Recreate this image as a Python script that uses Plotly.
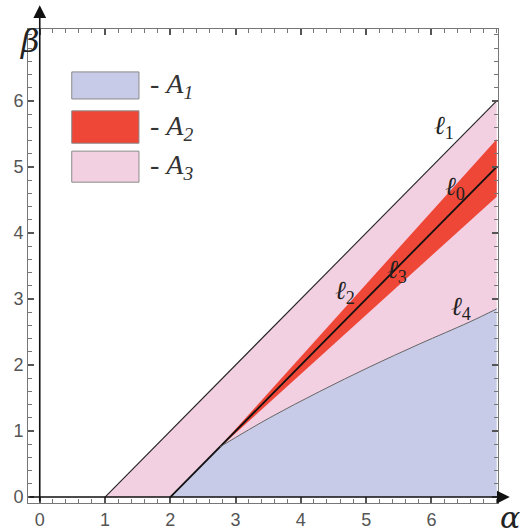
import plotly.graph_objects as go

# ---- data ----
# l1 : upper straight boundary
l1_alpha = [1.0, 7.0]
l1_beta = [0.0, 6.0]
# l0 : central straight line
l0_alpha = [2.0, 7.0]
l0_beta = [0.0, 5.0]
# point where l4 leaves l0
join_alpha = 2.76
join_beta = 0.76
# l4 : curved lower boundary
l4_alpha = [2.76, 3.52, 4.29, 5.05, 5.82, 6.58, 7.0]
l4_beta = [0.76, 1.20, 1.60, 1.97, 2.32, 2.65, 2.85]
# red wedge A2 (between l2 and l3)
a2_alpha = [2.7, 7.0, 7.0]
a2_beta = [0.7, 5.42, 4.55]
# labelled ticks
tick_vals = [0, 1, 2, 3, 4, 5, 6]

ALPHA_MAX = 7.0
BLUE = '#c7cbe7'
PINK = '#f2d0e1'
RED = '#ee4637'

fig = go.Figure()

# A1 : below l0 then below l4
a1_x = [l0_alpha[0], join_alpha] + l4_alpha + [ALPHA_MAX]
a1_y = [l0_beta[0], join_beta] + l4_beta + [0.0]
fig.add_trace(go.Scatter(x=a1_x, y=a1_y, fill='toself', fillcolor=BLUE,
                         mode='none', hoverinfo='skip', showlegend=False))

# A3 : between l1 and l0/l4
a3_x = l1_alpha + l4_alpha[::-1] + [join_alpha, l0_alpha[0]]
a3_y = l1_beta + l4_beta[::-1] + [join_beta, l0_beta[0]]
fig.add_trace(go.Scatter(x=a3_x, y=a3_y, fill='toself', fillcolor=PINK,
                         mode='none', hoverinfo='skip', showlegend=False))

# A2 : red wedge
fig.add_trace(go.Scatter(x=a2_alpha, y=a2_beta, fill='toself', fillcolor=RED,
                         mode='none', hoverinfo='skip', showlegend=False))

# lines
fig.add_trace(go.Scatter(x=l1_alpha, y=l1_beta, mode='lines',
                         line=dict(color='#222', width=1.1), showlegend=False))
fig.add_trace(go.Scatter(x=l0_alpha, y=l0_beta, mode='lines',
                         line=dict(color='#111', width=1.8), showlegend=False))
fig.add_trace(go.Scatter(x=l4_alpha, y=l4_beta, mode='lines', line_shape='spline',
                         line=dict(color='#555', width=0.9), showlegend=False))

# ---- legend drawn by hand ----
legend_rows = [(6.44, 6.03, BLUE, '1'), (5.85, 5.36, RED, '2'), (5.24, 4.77, PINK, '3')]
for top, bot, col, sub in legend_rows:
    fig.add_shape(type='rect', x0=0.49, x1=1.52, y0=bot, y1=top,
                  fillcolor=col, line=dict(color='#8a8a8a', width=1))
    fig.add_annotation(x=1.66, y=(top + bot) / 2, xanchor='left', yanchor='middle',
                       text='- <i>A</i><sub><i>' + sub + '</i></sub>', showarrow=False,
                       font=dict(family='Liberation Serif', size=28, color='#333'))

# ---- curve labels ----
serif = dict(family='Liberation Serif', size=26, color='#222')
labels = [(6.2, 5.6, '1'), (6.36, 4.68, '0'), (5.48, 3.42, '3'),
          (4.67, 3.1, '2'), (6.46, 2.86, '4')]
for ax_, by_, sub in labels:
    fig.add_annotation(x=ax_, y=by_, text='<i>ℓ</i><sub>' + sub + '</sub>',
                       showarrow=False, font=serif)

# ---- axes with arrows ----
fig.add_annotation(x=0, y=7.45, ax=0, ay=-0.09, xref='x', yref='y', axref='x', ayref='y',
                   showarrow=True, arrowhead=2, arrowsize=1.6, arrowwidth=1.6,
                   arrowcolor='#111', text='')
fig.add_annotation(x=7.2, y=0, ax=-0.18, ay=0, xref='x', yref='y', axref='x', ayref='y',
                   showarrow=True, arrowhead=2, arrowsize=1.6, arrowwidth=1.6,
                   arrowcolor='#111', text='')

fig.add_annotation(x=-0.021, y=1.02, xref='paper', yref='paper', text='<i>β</i>',
                   showarrow=False, font=dict(family='DejaVu Serif', size=32, color='#222'))
fig.add_annotation(x=1.0, y=-0.03, xref='paper', yref='paper', xanchor='left',
                   yanchor='middle', text='<i>α</i>', showarrow=False,
                   font=dict(family='DejaVu Serif', size=30, color='#222'))

axis_common = dict(
    showgrid=False, zeroline=False, showline=True, linecolor='#777', linewidth=1,
    mirror='ticks', ticks='inside', ticklen=6, tickcolor='#555', tickwidth=1.5,
    tickmode='array', tickvals=tick_vals, automargin=False,
    minor=dict(ticks='inside', ticklen=4, tick0=0, dtick=0.2, tickcolor='#777', tickwidth=1.2),
    tickfont=dict(family='Liberation Sans', size=18, color='#555'),
)
fig.update_xaxes(range=[-0.18, 7.02], **axis_common)
fig.update_yaxes(range=[-0.09, 7.09], **axis_common)

fig.update_layout(
    width=520, height=530,
    margin=dict(l=28, r=22, t=29, b=27, autoexpand=False),
    paper_bgcolor='white', plot_bgcolor='white',
    showlegend=False,
)

fig.write_html("out.html", config={'displayModeBar': False},
               post_script="document.body.style.margin='0px';")
